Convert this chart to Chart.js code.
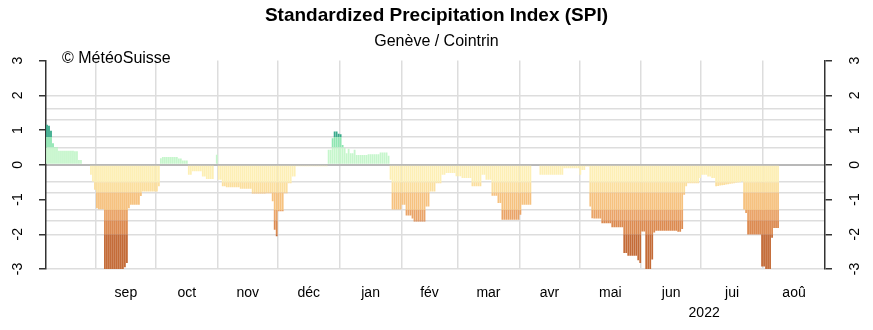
<!DOCTYPE html>
<html>
<head>
<meta charset="utf-8">
<title>SPI Genève / Cointrin</title>
<script src="https://cdn.jsdelivr.net/npm/chart.js@4.4.1/dist/chart.umd.min.js"></script>
<style>
  html, body { margin: 0; padding: 0; background: #fff; }
  #graphique { display: block; }
</style>
</head>
<body>
<canvas id="graphique" width="873" height="330"></canvas>
<script>
// premier jour de la serie (jour 0) et fin de l'axe
const dateDebut = [2021, 7, 7];
const dateFinAxe = [2022, 8, 1];

// SPI journalier
const valeursSpi = [
  1.15, 1.12, 0.98, 0.62, 0.51, 0.51, 0.40, 0.40, 0.40, 0.40, 0.40, 0.40, 0.40, 0.40, 0.39, 0.39,
  0.14, 0.14, 0, 0, 0, 0, -0.29, -0.48, -0.72, -1.25, -1.28, -1.28, -1.28,
  -3, -3, -3, -3, -3, -3, -3, -3, -3, -3, -2.95, -2.83, -1.25,
  -1.15, -1.15, -1.15, -1.15, -1.15, -0.9, -0.77, -0.77, -0.77, -0.77, -0.77, -0.77, -0.77, -0.77, -0.62,
  0.19, 0.22, 0.22, 0.22, 0.22, 0.22, 0.22, 0.22, 0.22, 0.18, 0.18, 0.12, 0.12, 0.12,
  -0.29, -0.29, -0.19, -0.19, -0.19, -0.19, -0.19, -0.34, -0.34, -0.41, -0.41, -0.41, -0.41,
  0, 0.29, -0.43, -0.43, -0.62, -0.62,
  -0.65, -0.65, -0.65, -0.65, -0.65, -0.65, -0.65, -0.69, -0.69, -0.69, -0.69, -0.69, -0.69,
  -0.83, -0.83, -0.83, -0.83, -0.83, -0.83, -0.83, -0.82, -0.82, -0.82,
  -1.05, -1.87, -2.06, -1.34, -1.34, -1.34, -0.82, -0.82, -0.53, -0.53, -0.34, -0.34,
  -0.04, -0.04, -0.04, -0.04, -0.04, -0.04, -0.04, -0.04, -0.04, -0.04, -0.04, -0.04, -0.04, -0.04, -0.04, -0.04,
  0.43, 0.43, 0.76, 0.96, 0.96, 0.89, 0.88, 0.57, 0.48, 0.33, 0.46, 0.33, 0.33, 0.43,
  0.28, 0.28, 0.28, 0.28, 0.28, 0.28, 0.30, 0.30, 0.30, 0.30, 0.30, 0.30, 0.35, 0.35, 0.35, 0.35, 0.26,
  -0.43, -1.29, -1.29, -1.29, -1.29, -1.29, -1.15, -1.15, -1.46, -1.46, -1.46, -1.55,
  -1.63, -1.63, -1.63, -1.63, -1.63, -1.63, -1.2, -1.2, -0.77, -0.77, -0.77, -0.53, -0.53, -0.53,
  -0.29, -0.29, -0.24, -0.24, -0.24, -0.24, -0.24, -0.33, -0.33, -0.33,
  -0.38, -0.38, -0.38, -0.38, -0.38, -0.62, -0.62, -0.62, -0.62, -0.62, -0.29, -0.29,
  -0.43, -0.43, -0.43, -0.89, -0.89, -0.89, -1.1, -1.1,
  -1.58, -1.58, -1.58, -1.58, -1.58, -1.58, -1.58, -1.58, -1.58, -1.44,
  -1.15, -1.15, -1.15, -1.15, -1.15, 0, 0, 0.03, 0.03,
  -0.29, -0.29, -0.29, -0.29, -0.29, -0.29, -0.29, -0.29, -0.29, -0.29, -0.29, -0.29,
  -0.10, -0.10, -0.10, -0.10, -0.10, -0.10, -0.10, -0.10, -0.29, -0.15, -0.15, -0.05, -0.05,
  -1.2, -1.54, -1.55, -1.55, -1.55, -1.55, -1.68, -1.68, -1.68, -1.68, -1.68,
  -1.80, -1.80, -1.80, -1.80, -1.80, -1.80, -2.54, -2.54, -2.62, -2.62, -2.62, -2.62, -2.62,
  -2.75, -2.83, -1.92, -1.92, -3, -3, -3, -2.73, -1.95,
  -1.90, -1.90, -1.90, -1.90, -1.90, -1.90, -1.90, -1.90, -1.90, -1.90, -1.90, -1.93, -1.93, -1.85,
  -0.86, -0.62, -0.53, -0.53, -0.53, -0.53, -0.53, -0.53, -0.38, -0.29, -0.29, -0.29, -0.34, -0.34, -0.38, -0.38,
  -0.62, -0.61, -0.60, -0.59, -0.58, -0.57, -0.56, -0.55, -0.54, -0.53, -0.52, -0.51, -0.50, -0.48,
  -1.29, -1.39, -2.01, -2.01, -2.01, -2.01, -2.01, -2.01, -2.01, -2.93, -2.93, -3, -3, -3,
  -2.1, -1.82, -1.82, -1.82
];

const etiquettesMois = ["sep", "oct", "nov", "déc", "jan", "fév", "mar", "avr", "mai", "jun", "jui", "aoû"];
const premierMois = [2021, 8];
const anneeEtiquette = 2022;
const valeursAxeY = [-3, -2, -1, 0, 1, 2, 3];
// limites des classes SPI (et lignes horizontales)
const limitesClasses = [-3, -2, -1.6, -1.3, -0.8, -0.5, 0, 0.5, 0.8, 1.3, 1.6, 2, 3];
const couleursClasses = ["#c46b37", "#dc8a50", "#eaa468", "#f6c27f", "#fbdf9e", "#fdefb5",
                         "#c6f6cc", "#8fe6b2", "#38a98b", "#1e8f7a", "#137466", "#0b5a50"];

function jourIndex(annee, mois, jour) {
  const t0 = Date.UTC(dateDebut[0], dateDebut[1], dateDebut[2]);
  return Math.round((Date.UTC(annee, mois, jour) - t0) / 86400000);
}

const finAxe = jourIndex(dateFinAxe[0], dateFinAxe[1], dateFinAxe[2]);

const debutsMois = [];
for (let k = 0; k <= etiquettesMois.length; k++) {
  debutsMois.push(jourIndex(premierMois[0], premierMois[1] + k, 1));
}
const milieuxMois = etiquettesMois.map(function (m, k) {
  return (debutsMois[k] + debutsMois[k + 1]) / 2;
});
const milieuAnnee = (jourIndex(anneeEtiquette, 0, 1) + jourIndex(anneeEtiquette + 1, 0, 1)) / 2;

const ticksEtiquettes = milieuxMois.concat([milieuAnnee]);
const textesEtiquettes = etiquettesMois.map(function (m) { return m; }).concat([["", String(anneeEtiquette)]]);

// un jeu de barres flottantes par classe
const jeuxDonnees = [];
for (let k = 0; k < couleursClasses.length; k++) {
  const bas = limitesClasses[k];
  const haut = limitesClasses[k + 1];
  const points = [];
  valeursSpi.forEach(function (v, i) {
    if (haut <= 0 && v < haut) {
      points.push({ x: i + 0.5, y: [Math.max(v, bas), haut] });
    } else if (bas >= 0 && v > bas) {
      points.push({ x: i + 0.5, y: [bas, Math.min(v, haut)] });
    }
  });
  jeuxDonnees.push({
    data: points,
    backgroundColor: couleursClasses[k],
    borderWidth: 0,
    barPercentage: 0.9,
    categoryPercentage: 1,
    grouped: false,
    xAxisID: "x",
    yAxisID: "y"
  });
}

const police = '"Liberation Sans", Arial, Helvetica, sans-serif';
Chart.defaults.font.family = police;
Chart.defaults.color = "#000";

const textesAxes = {
  id: "textesAxes",
  afterDraw: function (chart) {
    const ctx = chart.ctx;
    const gauche = chart.scales.yl;
    const droite = chart.scales.yr;
    ctx.save();
    ctx.fillStyle = "#000";
    ctx.font = "14px " + police;
    ctx.textAlign = "center";
    ctx.textBaseline = "middle";
    valeursAxeY.forEach(function (v) {
      const y = gauche.getPixelForValue(v);
      [gauche.right - 28, droite.left + 30].forEach(function (x) {
        ctx.save();
        ctx.translate(x, y);
        ctx.rotate(-Math.PI / 2);
        ctx.fillText(String(v), 0, 0);
        ctx.restore();
      });
    });
    ctx.font = "16px " + police;
    ctx.textAlign = "left";
    ctx.fillText("© MétéoSuisse", chart.chartArea.left + 16, chart.chartArea.top - 2);
    ctx.restore();
  }
};

new Chart(document.getElementById("graphique"), {
  type: "bar",
  data: { datasets: jeuxDonnees },
  options: {
    responsive: false,
    animation: false,
    devicePixelRatio: 1,
    layout: { padding: 0 },
    plugins: {
      legend: { display: false },
      tooltip: { enabled: false },
      title: {
        display: true,
        text: "Standardized Precipitation Index (SPI)",
        font: { size: 19, weight: "bold" },
        color: "#000",
        padding: { top: 4, bottom: 0 }
      },
      subtitle: {
        display: true,
        text: "Genève / Cointrin",
        font: { size: 16 },
        color: "#000",
        padding: { top: 5, bottom: 9.5 }
      }
    },
    scales: {
      x: {
        type: "linear",
        position: "bottom",
        offset: false,
        min: 0,
        max: finAxe,
        afterBuildTicks: function (s) { s.ticks = debutsMois.slice(0, -1).map(function (v) { return { value: v }; }); },
        afterFit: function (s) { s.height = 0; },
        ticks: { display: false },
        grid: { offset: false, color: "#dddddd", lineWidth: 1.5, drawTicks: false },
        border: { display: false },
        z: 1
      },
      xl: {
        type: "linear",
        position: "bottom",
        offset: false,
        min: 0,
        max: finAxe,
        afterBuildTicks: function (s) { s.ticks = ticksEtiquettes.map(function (v) { return { value: v }; }); },
        afterFit: function (s) { s.height = 61; },
        ticks: {
          autoSkip: false,
          maxRotation: 0,
          padding: 6,
          font: { size: 14, lineHeight: 1.45 },
          color: "#000",
          callback: function (v, i) { return textesEtiquettes[i]; }
        },
        grid: { display: false, offset: false },
        border: { display: false }
      },
      y: {
        type: "linear",
        position: "left",
        min: -3,
        max: 3,
        afterBuildTicks: function (s) { s.ticks = limitesClasses.slice(0, -1).map(function (v) { return { value: v }; }); },
        afterFit: function (s) { s.width = 0; },
        ticks: { display: false },
        grid: {
          color: function (c) { return c.tick && c.tick.value === 0 ? "#b8b8b8" : "#dddddd"; },
          lineWidth: function (c) { return c.tick && c.tick.value === 0 ? 2 : 1.5; },
          drawTicks: false
        },
        border: { display: false },
        z: 1
      },
      yl: {
        type: "linear",
        position: "left",
        min: -3,
        max: 3,
        afterBuildTicks: function (s) { s.ticks = valeursAxeY.map(function (v) { return { value: v }; }); },
        afterFit: function (s) { s.width = 46; },
        ticks: { display: false },
        grid: { drawOnChartArea: false, drawTicks: true, tickLength: 7, color: "#333", lineWidth: 1.5 },
        border: { display: true, color: "#333", width: 1.5 }
      },
      yr: {
        type: "linear",
        position: "right",
        min: -3,
        max: 3,
        afterBuildTicks: function (s) { s.ticks = valeursAxeY.map(function (v) { return { value: v }; }); },
        afterFit: function (s) { s.width = 48; },
        ticks: { display: false },
        grid: { drawOnChartArea: false, drawTicks: true, tickLength: 7, color: "#333", lineWidth: 1.5 },
        border: { display: true, color: "#333", width: 1.5 }
      }
    }
  },
  plugins: [textesAxes]
});
</script>
</body>
</html>
